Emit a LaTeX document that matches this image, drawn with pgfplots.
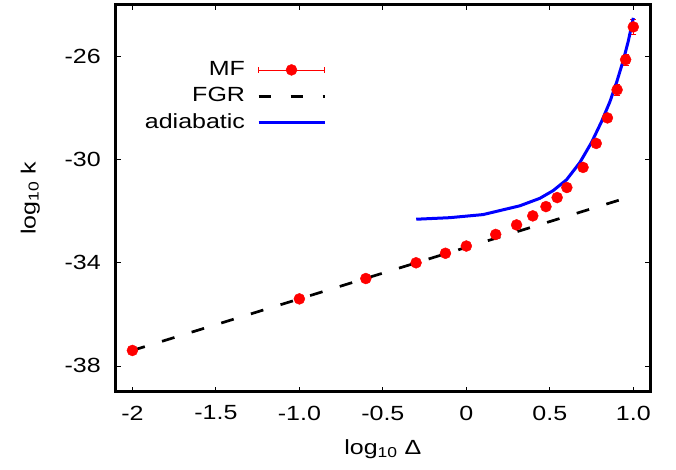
\documentclass[border=0pt]{standalone}
\usepackage{fontspec}
\setmainfont{Liberation Sans}[FakeStretch=1.22]
\usepackage{pgfplots}
\pgfplotsset{compat=1.18}
\begin{document}
\fontsize{20.5bp}{24bp}\selectfont
\begin{tikzpicture}
\path[use as bounding box] (-115.7bp,-78.3bp) rectangle (560.3bp,391.7bp);
\begin{axis}[
  at={(0,0)}, anchor=south west,
  scale only axis, width=534.3bp, height=386.7bp,
  xmin=-2.1, xmax=1.1, ymin=-39, ymax=-24,
  xtick={-2,-1.5,-1,-0.5,0,0.5,1},
  xticklabels={-2,-1.5,-1.0,-0.5,0,0.5,1.0},
  ytick={-38,-34,-30,-26},
  yticklabels={-38,-34,-30,-26},
  tick align=inside, major tick length=5bp,
  tick style={black, line width=0.8bp},
  axis line style={black, line width=3bp},
  font=\fontsize{20.5bp}{24bp}\selectfont,
  xticklabel style={yshift=-7bp},
  yticklabel style={xshift=-8bp},
  xlabel={log\textsubscript{10} Δ},
  ylabel={log\textsubscript{10} k},
  xlabel style={at={(axis description cs:0.5,-0.148)}, anchor=center},
  ylabel style={at={(axis description cs:-0.160,0.5)}, anchor=center},
  legend plot pos=right,
  legend cell align=right,
  legend style={at={(axis description cs:0.394,0.86)}, anchor=north east,
    draw=none, fill=none, inner sep=0pt, row sep=5bp,
    font=\fontsize{20.5bp}{24bp}\selectfont},
  clip=false,
]
\addplot[only marks, mark=*, red, mark size=5.5bp, forget plot,
  error bars/.cd, y dir=both, y explicit,
  error bar style={red, line width=0.6bp},
  error mark options={rotate=90, mark size=3bp, red, line width=0.6bp}]
  table[x=x, y=y, y error=e] {
x y e
-2.000 -37.40 0.02
-1.000 -35.40 0.02
-0.602 -34.61 0.02
-0.301 -34.00 0.02
-0.125 -33.63 0.02
0.000 -33.35 0.03
0.176 -32.90 0.03
0.301 -32.53 0.03
0.398 -32.18 0.04
0.477 -31.82 0.04
0.544 -31.47 0.05
0.602 -31.08 0.05
0.699 -30.30 0.06
0.778 -29.37 0.08
0.845 -28.38 0.12
0.903 -27.29 0.22
0.954 -26.12 0.22
1.000 -24.85 0.30
};
\addlegendimage{legend image code/.code={
  \draw[red, line width=0.6bp] (0bp,0bp) -- (66bp,0bp);
  \draw[red, line width=0.6bp] (0bp,-3bp) -- (0bp,3bp) (66bp,-3bp) -- (66bp,3bp);
  \fill[red] (33bp,0bp) circle (5.5bp);}}
\addlegendentry{MF\hspace*{10bp}}
\addplot[black, line width=2.7bp, dash pattern=on 13bp off 18bp, forget plot]
  coordinates {(-2,-37.4) (1,-31.4)};
\addlegendimage{legend image code/.code={
  \draw[black, line width=2.7bp, dash pattern=on 12bp off 20bp] (0bp,0bp) -- (66bp,0bp);}}
\addlegendentry{FGR\hspace*{10bp}}
\addplot[blue, line width=3bp, forget plot] coordinates {
(-0.30,-32.31) (-0.10,-32.25) (0.10,-32.13) (0.32,-31.79) (0.44,-31.50)
(0.52,-31.20) (0.60,-30.78) (0.68,-30.11) (0.75,-29.33) (0.81,-28.52)
(0.86,-27.75) (0.90,-27.00) (0.94,-26.15) (0.97,-25.40) (1.00,-24.50)};
\addlegendimage{legend image code/.code={
  \draw[blue, line width=3bp] (0bp,0bp) -- (66bp,0bp);}}
\addlegendentry{adiabatic\hspace*{10bp}}
\end{axis}
\end{tikzpicture}
\end{document}
